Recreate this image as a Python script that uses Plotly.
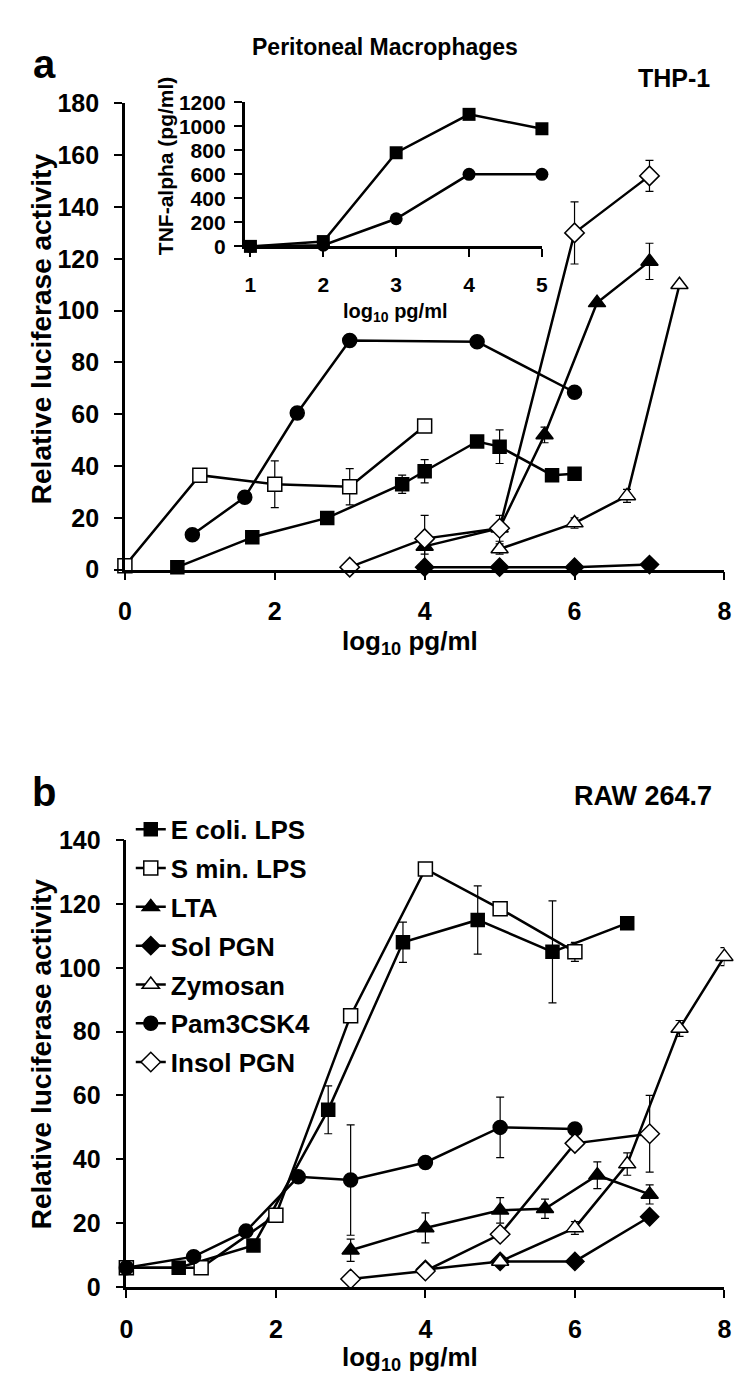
import plotly.graph_objects as go

W, H = 745, 1388
FONT = "Liberation Sans, Arial, sans-serif"

# ---------------- DATA ----------------
series_names = ["E coli. LPS", "S min. LPS", "LTA", "Sol PGN", "Zymosan", "Pam3CSK4", "Insol PGN"]

# Panel a (THP-1)
a_ecoli_x = [0.7, 1.7, 2.7, 3.7, 4.0, 4.7, 5.0, 5.7, 6.0]
a_ecoli_y = [1, 12.5, 20, 33, 38, 49.5, 47.5, 36.5, 37]
a_ecoli_e = [0, 0, 0, 3.5, 4.5, 0, 6.5, 0, 0]

a_smin_x = [0, 1, 2, 3, 4]
a_smin_y = [1.5, 36.5, 33, 32, 55.5]
a_smin_e = [0, 0, 9, 7, 0]

a_lta_x = [4, 5, 5.6, 6.3, 7]
a_lta_y = [9, 16, 52, 103, 119]
a_lta_e = [3, 0, 3, 0, 7]

a_sol_x = [4, 5, 6, 7]
a_sol_y = [1, 1, 1, 2]
a_sol_e = [0, 0, 0, 0]

a_zym_x = [5, 6, 6.7, 7.4]
a_zym_y = [8, 18, 28.5, 110]
a_zym_e = [2, 2, 2.5, 0]

a_pam_x = [0.9, 1.6, 2.3, 3, 4.7, 6]
a_pam_y = [13.5, 28, 60.5, 88.5, 88, 68.5]
a_pam_e = [0, 0, 0, 0, 0, 0]

a_insol_x = [3, 4, 5, 6, 7]
a_insol_y = [1, 12, 16, 130, 152]
a_insol_e = [0, 9, 5, 12, 6]

# Inset (Peritoneal Macrophages)
inset_x = [1, 2, 3, 4, 5]
inset_ecoli_y = [0, 40, 780, 1100, 980]
inset_pam_y = [0, 10, 230, 600, 600]

# Panel b (RAW 264.7)
b_ecoli_x = [0, 0.7, 1.7, 2.7, 3.7, 4.7, 5.7, 6.7]
b_ecoli_y = [6, 6, 13, 55.5, 108, 115, 105, 114]
b_ecoli_e = [0, 0, 0, 7.5, 6.3, 10.7, 16, 0]

b_smin_x = [0, 1, 2, 3, 4, 5, 6]
b_smin_y = [6, 6, 22.5, 85, 131, 118.5, 105]
b_smin_e = [0, 0, 0, 0, 0, 0, 3]

b_lta_x = [3, 4, 5, 5.6, 6.3, 7]
b_lta_y = [11.5, 18.5, 24, 24.5, 35, 29]
b_lta_e = [3.5, 4.7, 4, 3, 4.2, 3]

b_sol_x = [4, 5, 6, 7]
b_sol_y = [5.5, 8, 8, 22]
b_sol_e = [0, 0, 0, 0]

b_zym_x = [5, 6, 6.7, 7.4, 8]
b_zym_y = [8, 18.5, 38.5, 81, 103.5]
b_zym_e = [1, 2, 3.5, 2.5, 2.8]

b_pam_x = [0, 0.9, 1.6, 2.3, 3, 4, 5, 6]
b_pam_y = [6, 9.5, 17.5, 34.5, 33.5, 39, 50, 49.5]
b_pam_e = [0, 0, 0, 0, 17.3, 0, 9.5, 0]

b_insol_x = [3, 4, 5, 6, 7]
b_insol_y = [2.5, 5, 16.5, 45, 48]
b_insol_e = [0, 0, 0, 0, 12]

# ---------------- STYLE ----------------
styles = {
    "E coli. LPS": dict(symbol="square", fill="black", size=13),
    "S min. LPS": dict(symbol="square", fill="white", size=14),
    "LTA": dict(symbol="triangle-up", fill="black", size=15),
    "Sol PGN": dict(symbol="diamond", fill="black", size=14),
    "Zymosan": dict(symbol="triangle-up", fill="white", size=15),
    "Pam3CSK4": dict(symbol="circle", fill="black", size=14),
    "Insol PGN": dict(symbol="diamond", fill="white", size=15),
}

panel_a = {
    "E coli. LPS": (a_ecoli_x, a_ecoli_y, a_ecoli_e),
    "S min. LPS": (a_smin_x, a_smin_y, a_smin_e),
    "LTA": (a_lta_x, a_lta_y, a_lta_e),
    "Sol PGN": (a_sol_x, a_sol_y, a_sol_e),
    "Zymosan": (a_zym_x, a_zym_y, a_zym_e),
    "Pam3CSK4": (a_pam_x, a_pam_y, a_pam_e),
    "Insol PGN": (a_insol_x, a_insol_y, a_insol_e),
}
panel_b = {
    "E coli. LPS": (b_ecoli_x, b_ecoli_y, b_ecoli_e),
    "S min. LPS": (b_smin_x, b_smin_y, b_smin_e),
    "LTA": (b_lta_x, b_lta_y, b_lta_e),
    "Sol PGN": (b_sol_x, b_sol_y, b_sol_e),
    "Zymosan": (b_zym_x, b_zym_y, b_zym_e),
    "Pam3CSK4": (b_pam_x, b_pam_y, b_pam_e),
    "Insol PGN": (b_insol_x, b_insol_y, b_insol_e),
}


def make_trace(name, x, y, e, xa, ya, show):
    st = styles[name]
    return go.Scatter(
        x=x, y=y, name=name, xaxis=xa, yaxis=ya, mode="lines+markers",
        legendgroup=name, showlegend=show, cliponaxis=False,
        line=dict(color="black", width=2.5),
        marker=dict(symbol=st["symbol"], size=st["size"], color=st["fill"],
                    line=dict(color="black", width=1.5)),
        error_y=dict(type="data", array=e, symmetric=True, visible=True,
                     color="black", thickness=1.2, width=4),
    )


fig = go.Figure()
for nm in series_names:
    x, y, e = panel_a[nm]
    fig.add_trace(make_trace(nm, x, y, e, "x", "y", False))
for nm in series_names:
    x, y, e = panel_b[nm]
    fig.add_trace(make_trace(nm, x, y, e, "x2", "y2", True))

# inset
fig.add_trace(go.Scatter(x=inset_x, y=inset_ecoli_y, xaxis="x3", yaxis="y3", mode="lines+markers",
                         showlegend=False, cliponaxis=False,
                         line=dict(color="black", width=2.5),
                         marker=dict(symbol="square", size=13, color="black")))
fig.add_trace(go.Scatter(x=inset_x, y=inset_pam_y, xaxis="x3", yaxis="y3", mode="lines+markers",
                         showlegend=False, cliponaxis=False,
                         line=dict(color="black", width=2.5),
                         marker=dict(symbol="circle", size=13, color="black")))


def px(v):
    return v / W


def py(v):
    return (H - v) / H


tickf = dict(family=FONT, size=25, color="black", weight="bold")
tickf_in = dict(family=FONT, size=21, color="black", weight="bold")
axis_common = dict(showline=True, linewidth=2.5, linecolor="black", ticks="outside",
                   ticklen=8, tickwidth=2, tickcolor="black", showgrid=False, zeroline=False)

fig.update_layout(
    width=W, height=H, margin=dict(l=0, r=0, t=0, b=0),
    paper_bgcolor="white", plot_bgcolor="rgba(0,0,0,0)",
    xaxis=dict(domain=[px(112), px(723)], range=[0, 8], tickvals=[0, 2, 4, 6, 8],
               anchor="y", tickfont=tickf, ticklabelstandoff=10, **axis_common),
    yaxis=dict(domain=[py(559), py(83)], range=[0, 180], dtick=20,
               anchor="x", tickfont=tickf, ticklabelstandoff=10, **axis_common),
    xaxis2=dict(domain=[px(113.5), px(723)], range=[0, 8], tickvals=[0, 2, 4, 6, 8],
                anchor="y2", tickfont=tickf, ticklabelstandoff=10, **axis_common),
    yaxis2=dict(domain=[py(1291), py(835)], range=[0, 140], dtick=20,
                anchor="x2", tickfont=tickf, ticklabelstandoff=10, **axis_common),
    xaxis3=dict(domain=[px(234), px(537)], range=[0.92, 5], tickvals=[1, 2, 3, 4, 5],
                anchor="y3", tickfont=tickf_in, ticklabelstandoff=10, **axis_common),
    yaxis3=dict(domain=[py(229), py(82)], range=[0, 1200], dtick=200,
                anchor="x3", tickfont=tickf_in, ticklabelstandoff=4, **axis_common),
    legend=dict(x=px(118), y=py(800), xanchor="left", yanchor="top",
                font=dict(family=FONT, size=26, color="black", weight="bold"),
                bgcolor="rgba(0,0,0,0)", traceorder="grouped", tracegroupgap=2,
                itemwidth=30),
)


def ann(text, x, y, size, angle=0):
    fig.add_annotation(text=text, x=px(x), y=py(y), xref="paper", yref="paper",
                       xanchor="center", yanchor="middle", showarrow=False, textangle=angle,
                       font=dict(family=FONT, size=size, color="black", weight="bold"))


ann("Peritoneal Macrophages", 377, 26, 23)
ann("a", 30, 43, 40)
ann("THP-1", 672, 57, 25)
ann("b", 30, 786, 40)
ann("RAW 264.7", 640, 790, 27)
ann("Relative luciferase activity", 27, 313, 28, -90)
ann("Relative luciferase activity", 27, 1053, 28, -90)
ann("log<sub>10</sub> pg/ml", 403, 633, 26)
ann("log<sub>10</sub> pg/ml", 403, 1364, 26)
ann("TNF-alpha (pg/ml)", 153, 147, 21, -90)
ann("log<sub>10</sub> pg/ml", 387, 296, 20)

fig.write_html("out.html")
